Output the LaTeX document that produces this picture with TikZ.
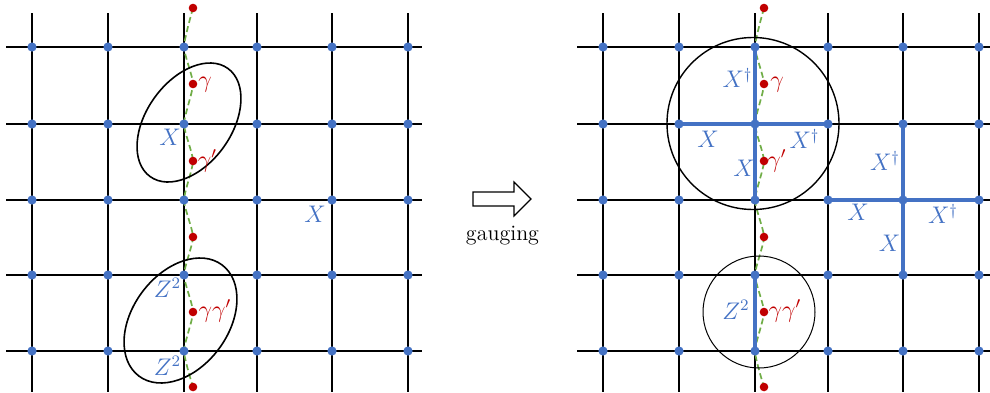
\documentclass[tikz,border=0pt]{standalone}
\usetikzlibrary{shapes.geometric}
\definecolor{vblue}{RGB}{68,114,196}
\definecolor{dred}{RGB}{192,0,0}
\definecolor{dgreen}{RGB}{112,173,71}
\pgfdeclarelayer{background}
\pgfsetlayers{background,main}
\begin{document}
\begin{tikzpicture}[x=0.5pt,y=-0.5pt,
  gridline/.style={line width=1pt, black},
  vdot/.style={circle, fill=vblue, inner sep=0pt, minimum size=4.6pt},
  rdot/.style={circle, fill=dred, inner sep=0pt, minimum size=4.3pt},
  strline/.style={dgreen, line width=0.85pt, dash pattern=on 3pt off 1.7pt},
  opline/.style={vblue, line width=2pt},
  blab/.style={text=vblue, inner sep=0pt, font=\fontsize{11.6}{14}\selectfont},
  rlab/.style={text=dred, inner sep=0pt, font=\fontsize{11.6}{14}\selectfont},
  loopel/.style={draw, ellipse, inner sep=0pt, line width=0.8pt},
  loopci/.style={draw, circle, inner sep=0pt},
]
\useasboundingbox (0,0) rectangle (990,392);

% ---------- two lattices ----------
\foreach \side/\dx/\xl/\xr in {L/0/6/422, R/571/577/990} {
  \foreach \x [count=\i] in {32,108,184,257,332,408} {
    \foreach \y [count=\j] in {47,124,200,275,351} {
      \node[vdot] (\side\i-\j) at (\x+\dx,\y) {};
    }
    \coordinate (\side t\i) at (\x+\dx,13);
    \coordinate (\side b\i) at (\x+\dx,392);
  }
  \foreach \y [count=\j] in {47,124,200,275,351} {
    \coordinate (\side l\j) at (\xl,\y);
    \coordinate (\side r\j) at (\xr,\y);
  }
  \foreach \y [count=\k] in {8,84,161,237,312,387} {
    \node[rdot] (\side g\k) at (193+\dx,\y) {};
  }
}

\begin{pgfonlayer}{background}
  \foreach \side in {L,R} {
    \foreach \i in {1,...,6} { \draw[gridline] (\side t\i) -- (\side b\i); }
    \foreach \j in {1,...,5} { \draw[gridline] (\side l\j) -- (\side r\j); }
    \draw[strline] plot[smooth, tension=0.35] coordinates {
      (\side g1.center) (\side3-1.center) (\side g2.center) (\side3-2.center)
      (\side g3.center) (\side3-3.center) (\side g4.center) (\side3-4.center)
      (\side g5.center) (\side3-5.center) (\side g6.center)};
  }
  % gauged operators on the right lattice
  \draw[opline] (R3-1.center) -- (R3-3.center);
  \draw[opline] (R2-2.center) -- (R4-2.center);
  \draw[opline] (R4-3.center) -- (R6-3.center);
  \draw[opline] (R5-2.center) -- (R5-4.center);
  \draw[opline] (R3-4.center) -- (R3-5.center);
\end{pgfonlayer}

% ---------- left labels and loops ----------
\node[loopel, minimum width=42.5pt, minimum height=66.6pt, rotate=-35.7] (E1) at (189,122.5) {};
\node[loopel, minimum width=47.7pt, minimum height=69.4pt, rotate=-36.8] (E2) at (180.5,320.5) {};

\node[blab] (lX1) at (170,137.5) {$X$};
\node[rlab] (lg1) at (205,85) {$\gamma$};
\node[rlab] (lg2) at (207.5,161) {$\gamma'$};
\node[blab] (lZ1) at (167.5,288) {$Z^2$};
\node[rlab] (lg3) at (215,311) {$\gamma\gamma'$};
\node[blab] (lZ2) at (167.5,366) {$Z^2$};
\node[blab] (lX2) at (315,214) {$X$};

% ---------- arrow ----------
\draw[line width=0.6pt] (473,192) -- (514,192) -- (514,182) -- (531,199)
  -- (514,216) -- (514,206) -- (473,206) -- cycle;
\node[inner sep=0pt, font=\fontsize{11}{13}\selectfont] (gauge) at (502.5,235.5) {gauging};

% ---------- right labels and loops ----------
\node[loopci, minimum size=86pt, line width=0.7pt] (C1) at (753,123.5) {};
\node[loopci, minimum size=56pt, line width=0.5pt] (C2) at (759,312) {};

\node[blab] (rXd1) at (737.5,78) {$X^\dagger$};
\node[rlab] (rg1) at (777,85) {$\gamma$};
\node[blab] (rX1) at (708,139.5) {$X$};
\node[blab] (rXd2) at (804.5,139) {$X^\dagger$};
\node[blab] (rX2) at (744,168) {$X$};
\node[rlab] (rg2) at (777,161) {$\gamma'$};
\node[blab] (rXd3) at (885,161) {$X^\dagger$};
\node[blab] (rX3) at (858,212.5) {$X$};
\node[blab] (rXd4) at (943,214) {$X^\dagger$};
\node[blab] (rX4) at (889.5,243.5) {$X$};
\node[blab] (rZ) at (736,310) {$Z^2$};
\node[rlab] (rg3) at (785,311) {$\gamma\gamma'$};
\end{tikzpicture}
\end{document}
